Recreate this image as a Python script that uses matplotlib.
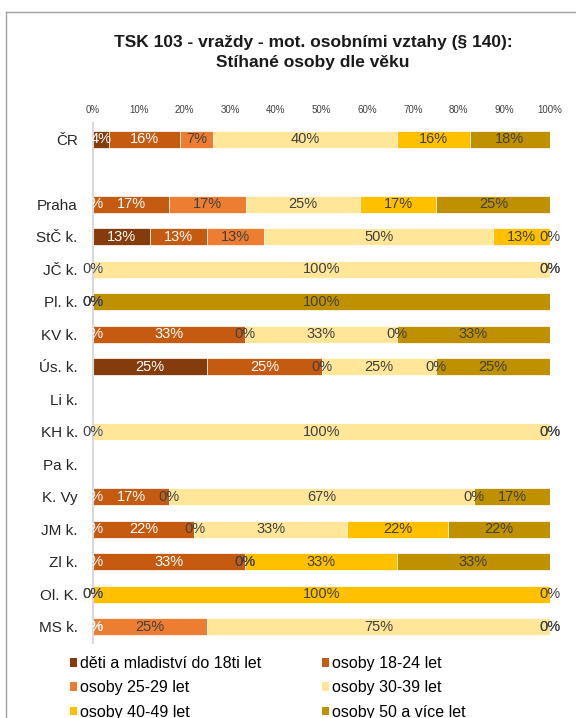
import numpy as np
import matplotlib.pyplot as plt
from matplotlib.patches import Patch
from matplotlib.lines import Line2D

plt.rcParams['font.family'] = ['Liberation Sans', 'DejaVu Sans']

# kraje (prazdny radek = mezera pod CR)
kraje = ['ČR', '', 'Praha', 'StČ k.', 'JČ k.', 'Pl. k.', 'KV k.', 'Ús. k.', 'Li k.',
         'KH k.', 'Pa k.', 'K. Vy', 'JM k.', 'Zl k.', 'Ol. K.', 'MS k.']

N = None
deti   = [3.6, N, 0.0, 12.5, 0, 0, 0.0, 25, N, 0, N, 0.0, 0.0, 0.0, 0, 0]
o18_24 = [15.5, N, 16.7, 12.5, 0, 0, 33.3, 25, N, 0, N, 16.7, 22.2, 33.3, 0, 0]
o25_29 = [7.1, N, 16.7, 12.5, 0, 0, 0.0, 0, N, 0, N, 0.0, 0.0, 0.0, 0, 25]
o30_39 = [40.4, N, 25.0, 50.0, 100, 0, 33.3, 25, N, 100, N, 66.7, 33.3, 0.0, 0, 75]
o40_49 = [15.8, N, 16.7, 12.5, 0, 0, 0.0, 0, N, 0, N, 0.0, 22.2, 33.3, 100, 0]
o50    = [17.6, N, 25.0, 0.0, 0, 100, 33.3, 25, N, 0, N, 16.7, 22.2, 33.3, 0, 0]

serie = [deti, o18_24, o25_29, o30_39, o40_49, o50]
nazvy = ['děti a mladiství do 18ti let', 'osoby 18-24 let', 'osoby 25-29 let',
         'osoby 30-39 let', 'osoby 40-49 let', 'osoby 50 a více let']
barvy = ['#843C0C', '#C55A11', '#ED7D31', '#FFE699', '#FFC000', '#BF9000']
barvy_textu = ['white', 'white', '#404040', '#404040', '#404040', '#404040']

fig = plt.figure(figsize=(5.76, 7.18), dpi=100)
ax = fig.add_axes([93/576, 1 - 643/718, 457/576, 520/718])

y = np.arange(len(kraje))
left = np.zeros(len(kraje))
for vals, c, tc, name in zip(serie, barvy, barvy_textu, nazvy):
    v = np.array([np.nan if a is None else a for a in vals], dtype=float)
    w = np.nan_to_num(v)
    ax.barh(y, w, left=left, height=0.52, color=c, edgecolor='white', linewidth=0.5, label=name)
    for i in range(len(y)):
        if np.isnan(v[i]):
            continue
        ax.text(left[i] + w[i]/2, y[i], '%d%%' % int(np.floor(v[i] + 0.5)),
                ha='center', va='center', fontsize=10.5, color=tc, clip_on=False)
    left = left + w

ax.set_xlim(0, 100)
ax.set_ylim(len(kraje) - 0.5, -0.5)
ax.xaxis.tick_top()
ax.set_xticks(np.arange(0, 101, 10))
ax.set_xticklabels(['%d%%' % t for t in range(0, 101, 10)], fontsize=7, color='#404040')
ax.set_yticks(y)
ax.set_yticklabels(kraje, fontsize=11, color='#262626')
ax.tick_params(axis='x', length=0, pad=6)
ax.tick_params(axis='y', length=0, pad=11)
for s in ['top', 'right', 'bottom']:
    ax.spines[s].set_visible(False)
ax.spines['left'].set_color('#d9d9d9')
ax.spines['left'].set_linewidth(1.5)

fig.text(313/576, 1 - 52.5/718, 'TSK 103 - vraždy - mot. osobními vztahy (§ 140):\nStíhané osoby dle věku',
         ha='center', va='center', fontsize=12.5, fontweight='bold', linespacing=1.35, color='#1a1a1a')

# ramecek grafu (oriznuty)
fig.add_artist(Line2D([6/576, 6/576], [0, 1 - 12/718], color='#a0a0a0', lw=1))
fig.add_artist(Line2D([6/576, 1], [1 - 12/718, 1 - 12/718], color='#a0a0a0', lw=1))

handles = [Patch(facecolor=c, edgecolor='none') for c in barvy]
order = [0, 2, 4, 1, 3, 5]
fig.legend([handles[i] for i in order], [nazvy[i] for i in order],
           loc='upper left', bbox_to_anchor=(70/576, 1 - 656/718), ncol=2, frameon=False,
           fontsize=11.5, handlelength=0.45, handleheight=0.45, handletextpad=0.2,
           labelspacing=0.58, columnspacing=3.75, borderaxespad=0, borderpad=0)

fig.savefig('out.png', dpi=100)
